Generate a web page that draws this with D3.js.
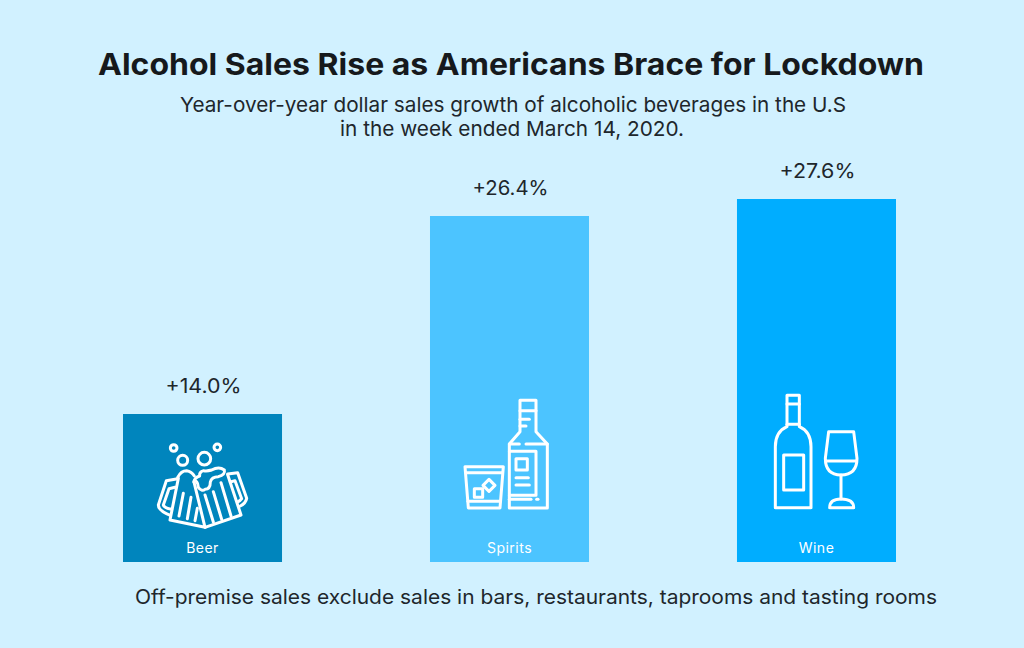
<!DOCTYPE html>
<html>
<head>
<meta charset="utf-8">
<script src="https://cdn.jsdelivr.net/npm/d3@7"></script>
<style>
  html, body { margin: 0; padding: 0; background: #d1f1ff; }
  svg { display: block; font-family: Inter, "Open Sans", sans-serif; }
</style>
</head>
<body>
<svg width="1024" height="648"></svg>
<script>
var categories = ["Beer", "Spirits", "Wine"]
var growth = [14.0, 26.4, 27.6]
var barColors = ["#0085bd", "#4cc4ff", "#00adff"]

var svg = d3.select("svg")

// bars in the original are not to a common zero scale, so the scale goes through each value
var scX = d3.scaleBand().domain(categories).range([123, 896]).paddingInner(0.482).paddingOuter(0),
    scY = d3.scaleLinear().domain([0, 14, 26.4, 27.6]).range([562, 414, 216, 199])

// text helper, width forced so the substitute font takes the same room as the original
function label(x, y, str, size, width, opts) {
    opts = opts || {}
    return svg.append("text")
        .attr("x", x).attr("y", y).text(str)
        .attr("font-size", size)
        .attr("font-weight", opts.weight || 400)
        .attr("fill", opts.fill || "#20262b")
        .attr("textLength", width)
        .attr("lengthAdjust", "spacingAndGlyphs")
}

label(98, 75, "Alcohol Sales Rise as Americans Brace for Lockdown", 30, 826, {weight: 700, fill: "#16191c"})
label(180, 112, "Year-over-year dollar sales growth of alcoholic beverages in the U.S", 20.5, 666)
label(340, 136, "in the week ended March 14, 2020.", 20.5, 344)
label(135, 604, "Off-premise sales exclude sales in bars, restaurants, taprooms and tasting rooms", 20, 802)

svg.selectAll("rect.bar").data(categories).enter().append("rect")
    .attr("class", "bar")
    .attr("x", d => scX(d))
    .attr("width", scX.bandwidth())
    .attr("y", (d, i) => scY(growth[i]))
    .attr("height", (d, i) => scY(0) - scY(growth[i]))
    .attr("fill", (d, i) => barColors[i])

svg.selectAll("text.value").data(growth).enter().append("text")
    .attr("class", "value")
    .attr("x", (d, i) => scX(categories[i]) + scX.bandwidth() / 2 + 1)
    .attr("y", d => scY(d) - 21)
    .attr("text-anchor", "middle")
    .attr("font-size", 20)
    .attr("fill", "#20262b")
    .attr("textLength", 76)
    .attr("lengthAdjust", "spacingAndGlyphs")
    .text(d => "+" + d.toFixed(1) + "%")

svg.selectAll("text.cat").data(categories).enter().append("text")
    .attr("class", "cat")
    .attr("x", d => scX(d) + scX.bandwidth() / 2)
    .attr("y", 553)
    .attr("text-anchor", "middle")
    .attr("font-size", 14)
    .attr("letter-spacing", 0.5)
    .attr("fill", "#fff")
    .text(d => d)

// icons, paths drawn in 3x units over each bar
function icon(name, x, y, paths, circles) {
    var g = svg.append("g").attr("class", name)
        .attr("transform", "translate(" + x + "," + y + ") scale(" + 1 / 3 + ")")
        .attr("fill", "none").attr("stroke", "#fff").attr("stroke-width", 9)
        .attr("stroke-linejoin", "round").attr("stroke-linecap", "round")
    g.selectAll("path").data(paths).enter().append("path").attr("d", d => d)
    g.selectAll("circle").data(circles || []).enter().append("circle")
        .attr("cx", d => d[0]).attr("cy", d => d[1]).attr("r", d => d[2])
}

icon("beer", 155, 440, [
    // left mug
    "M70 115 L45 240 L150 262 L118 130",
    "M68 112 Q78 92 95 92 Q110 94 118 108",
    "M68 116 L34 122 L10 195 Q10 212 46 226",
    "M60 142 L42 146 L25 195 Q28 204 50 208",
    "M85 160 L72 228", "M108 172 L97 236", "M127 205 L120 242",
    // right mug
    "M150 262 L258 225 L218 104",
    "M218 102 L248 98 L275 175 Q272 190 256 198",
    "M226 126 L240 122 L260 176 Q256 182 248 186",
    "M150 165 L175 246", "M175 155 L200 238", "M198 128 L228 228",
    // foam
    "M116 126 Q128 118 130 142 Q140 156 150 148 Q166 148 166 126 Q170 110 190 110 Q212 104 208 90 Q192 78 170 90 Q156 94 146 92 Q132 96 134 108 Q120 112 116 126"
], [[56, 24, 10], [187, 22, 10], [83, 61, 15], [148, 56, 19]])

icon("spirits", 430, 390, [
    "M270 31 L318 31 L318 125 L352 162 L352 354 L238 354 L238 162 L270 125 Z",
    "M270 62 L318 62", "M270 88 L298 88", "M270 108 L288 108",
    "M238 162 L268 162", "M288 162 L352 162",
    "M238 184 L318 184 L318 316 L238 316",
    "M258 206 L292 206 L292 240 L258 240 Z",
    "M258 263 L295 263", "M258 285 L298 285",
    "M238 328 L303 328", "M320 328 L324 328",
    // glass
    "M105 230 L220 230 L210 354 L115 354 Z",
    "M108 248 L217 248", "M114 334 L211 334",
    "M133 296 L158 296 L158 322 L133 322 Z",
    "M177 268 L195 286 L177 304 L159 286 Z"
])

icon("wine", 737, 385, [
    "M150 31 L187 31 L187 125 Q222 140 222 185 L222 368 L115 368 L115 185 Q115 140 150 125 Z",
    "M150 57 L187 57", "M150 118 L187 118",
    "M140 210 L200 210 L200 315 L140 315 Z",
    "M275 140 L350 140 L360 220 Q360 270 312 270 Q265 270 265 220 Z",
    "M268 228 L358 228", "M312 270 L312 342",
    "M278 368 L350 368 Q350 342 312 342 Q278 342 278 368 Z"
])
</script>
</body>
</html>
